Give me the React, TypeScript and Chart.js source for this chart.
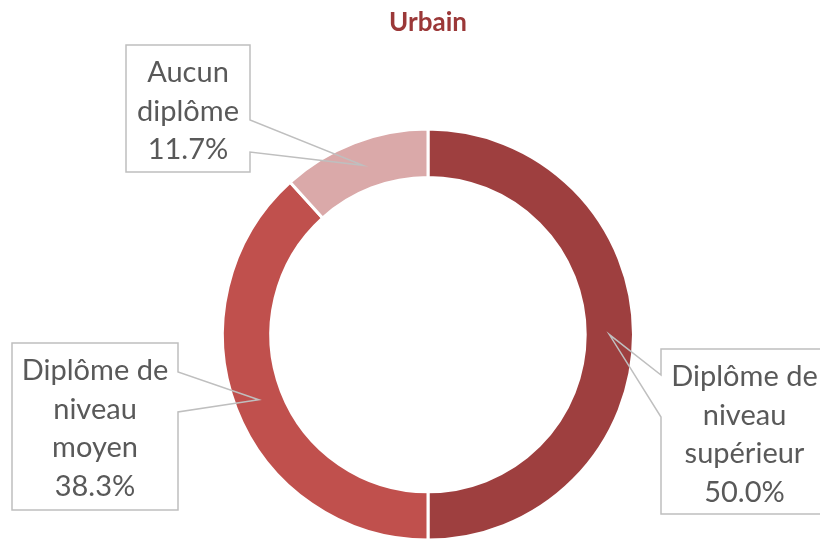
import React, { useEffect, useRef } from 'react';
import { Chart, registerables } from 'chart.js';

Chart.register(...registerables);

const chartTitle = 'Urbain';
const categories = ['Diplôme de niveau supérieur', 'Diplôme de niveau moyen', 'Aucun diplôme'];
const labelLines = [
  ['Diplôme de', 'niveau', 'supérieur'],
  ['Diplôme de', 'niveau', 'moyen'],
  ['Aucun', 'diplôme'],
];
const values = [50.0, 38.3, 11.7];
const colors = ['#9E3F3F', '#C0504D', '#DAA9A9'];

// callout box layout (positions only)
const calloutLayout = [
  { x: 661, y: 349, w: 167, h: 165, side: 'left', b1: 26, b2: 68 },
  { x: 12, y: 343, w: 166, h: 167, side: 'right', b1: 29, b2: 69 },
  { x: 126, y: 45, w: 124, h: 127, side: 'right', b1: 75, b2: 107 },
];

const calloutPlugin = {
  id: 'callouts',
  afterDatasetsDraw(chart: any) {
    const ctx = chart.ctx as CanvasRenderingContext2D;
    const meta = chart.getDatasetMeta(0);
    meta.data.forEach((el: any, i: number) => {
      const L = calloutLayout[i];
      const tip = el.getCenterPoint();
      const { x, y, w, h } = L;
      ctx.save();
      ctx.fillStyle = '#ffffff';
      ctx.fillRect(x, y, w, h);
      ctx.beginPath();
      if (L.side === 'right') {
        ctx.moveTo(x, y);
        ctx.lineTo(x + w, y);
        ctx.lineTo(x + w, y + L.b1);
        ctx.lineTo(tip.x, tip.y);
        ctx.lineTo(x + w, y + L.b2);
        ctx.lineTo(x + w, y + h);
        ctx.lineTo(x, y + h);
        ctx.closePath();
      } else {
        ctx.moveTo(x, y);
        ctx.lineTo(x + w, y);
        ctx.lineTo(x + w, y + h);
        ctx.lineTo(x, y + h);
        ctx.lineTo(x, y + L.b2);
        ctx.lineTo(tip.x, tip.y);
        ctx.lineTo(x, y + L.b1);
        ctx.closePath();
      }
      ctx.strokeStyle = '#BFBFBF';
      ctx.lineWidth = 1.5;
      ctx.lineJoin = 'miter';
      ctx.stroke();
      const lines = [...labelLines[i], `${values[i].toFixed(1)}%`];
      ctx.fillStyle = '#595959';
      ctx.font = '29px Lato';
      ctx.textAlign = 'center';
      ctx.textBaseline = 'alphabetic';
      lines.forEach((t, k) => {
        ctx.fillText(t, x + w / 2, y + 37 + k * 38.6);
      });
      ctx.restore();
    });
  },
};

export default function App() {
  const ref = useRef<HTMLCanvasElement>(null);
  useEffect(() => {
    document.body.style.margin = '0';
    document.body.style.overflow = 'hidden';
    document.documentElement.style.overflow = 'hidden';
    const chart = new Chart(ref.current!, {
      type: 'doughnut',
      data: {
        labels: categories,
        datasets: [
          {
            data: values,
            backgroundColor: colors,
            borderColor: '#ffffff',
            borderWidth: 3,
          },
        ],
      },
      options: {
        responsive: false,
        animation: false,
        devicePixelRatio: 1,
        cutout: '76.5%',
        layout: { padding: { left: 221, right: 185, top: 0, bottom: 18 } },
        plugins: {
          legend: { display: false },
          tooltip: { enabled: false },
          title: {
            display: true,
            text: chartTitle,
            color: '#9B3838',
            font: { family: 'Lato', size: 26, weight: 'bold' },
            padding: { top: 7, bottom: 89 },
          },
        },
      },
      plugins: [calloutPlugin],
    });
    return () => chart.destroy();
  }, []);
  return (
    <div style={{ width: 820, height: 560 }}>
      <canvas ref={ref} width={820} height={560} />
    </div>
  );
}
